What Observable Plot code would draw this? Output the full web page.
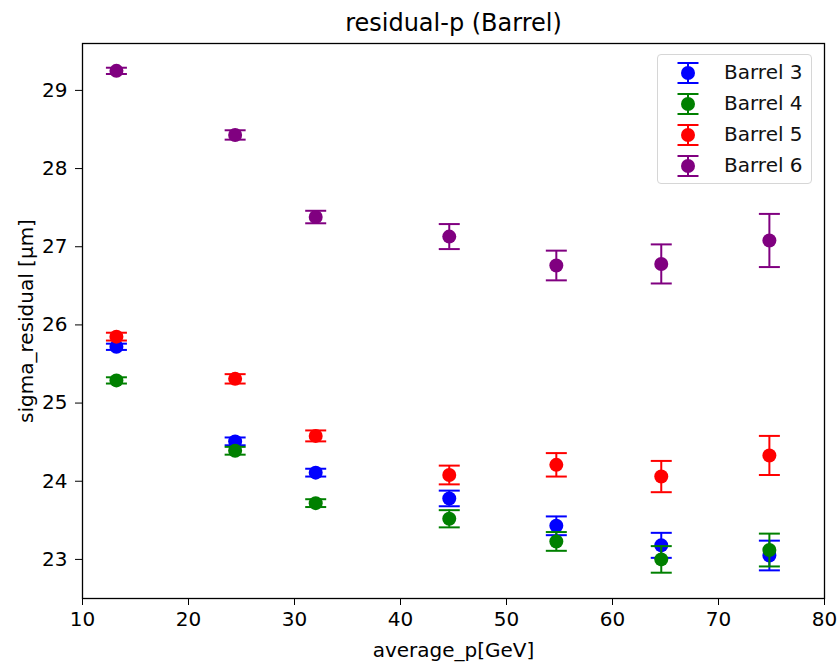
<!DOCTYPE html>
<html><head><meta charset="utf-8">
<script src="https://cdn.jsdelivr.net/npm/d3@7"></script>
<script src="https://cdn.jsdelivr.net/npm/@observablehq/plot@0.6"></script>
<style>
body{margin:0;background:#fff;font-family:"DejaVu Sans",sans-serif}
#wrap{position:relative;width:839px;height:664px}
#legend{position:absolute;left:657px;top:54px;width:155px;height:130px;border:1px solid #d6d6d6;border-radius:4px;background:rgba(255,255,255,0.8);box-sizing:border-box}
</style></head><body><div id="wrap"><div id="legend"></div></div>
<script>
const avgP = [13.2, 24.4, 32.0, 44.6, 54.7, 64.6, 74.8];
const seriesNames = ["Barrel 3", "Barrel 4", "Barrel 5", "Barrel 6"];
const seriesColors = ["blue", "green", "red", "purple"];
const barrel3 = [25.72, 24.51, 24.11, 23.78, 23.43, 23.18, 23.05];
const err3    = [0.04, 0.05, 0.05, 0.10, 0.12, 0.16, 0.19];
const barrel4 = [25.29, 24.39, 23.72, 23.52, 23.23, 23.00, 23.12];
const err4    = [0.04, 0.05, 0.05, 0.11, 0.12, 0.17, 0.21];
const barrel5 = [25.85, 25.31, 24.58, 24.08, 24.21, 24.06, 24.33];
const err5    = [0.05, 0.06, 0.07, 0.12, 0.15, 0.20, 0.25];
const barrel6 = [29.25, 28.43, 27.38, 27.13, 26.76, 26.78, 27.08];
const err6    = [0.04, 0.06, 0.08, 0.16, 0.19, 0.25, 0.34];
const xTicks = [10, 20, 30, 40, 50, 60, 70, 80];
const yTicks = [23, 24, 25, 26, 27, 28, 29];
const titleText = "residual-p (Barrel)";
const xLabel = "average_p[GeV]";
const yLabel = "sigma_residual [µm]";

const values = [barrel3, barrel4, barrel5, barrel6];
const errors = [err3, err4, err5, err6];
const rows = [];
values.forEach((v, s) => v.forEach((y, i) => rows.push({series: seriesNames[s], x: avgP[i], y, err: errors[s][i]})));

const cap = {draw(ctx) { ctx.moveTo(-10.5, 0); ctx.lineTo(10.5, 0); }};

const marks = [];
seriesNames.forEach(name => {
  const d = rows.filter(r => r.series === name);
  marks.push(
    Plot.ruleX(d, {x: "x", y1: r => r.y - r.err, y2: r => r.y + r.err, stroke: "series", strokeWidth: 2}),
    Plot.dot(d, {x: "x", y: r => r.y + r.err, symbol: cap, stroke: "series", fill: "none", strokeWidth: 2}),
    Plot.dot(d, {x: "x", y: r => r.y - r.err, symbol: cap, stroke: "series", fill: "none", strokeWidth: 2}),
    Plot.dot(d, {x: "x", y: "y", r: 7, fill: "series", stroke: "none"})
  );
});

const chart = Plot.plot({
  width: 839, height: 664,
  marginLeft: 82, marginRight: 15, marginTop: 43, marginBottom: 66,
  style: {fontFamily: "DejaVu Sans", fontSize: "20px", background: "#fff", color: "#000"},
  x: {domain: [10, 80]},
  y: {domain: [22.5, 29.6]},
  color: {domain: seriesNames, range: seriesColors},
  marks: [
    ...marks,
    Plot.frame({stroke: "black", strokeWidth: 1.3}),
    Plot.axisX({ticks: xTicks, tickSize: 7, tickPadding: 6, fontSize: 20, label: xLabel, labelAnchor: "center", labelArrow: "none", labelOffset: 58}),
    Plot.axisY({ticks: yTicks, tickSize: 7, tickPadding: 8, fontSize: 20, label: yLabel, labelAnchor: "center", labelArrow: "none", labelOffset: 64}),
    Plot.text([titleText], {frameAnchor: "top", text: d => d, dy: -30, fontSize: 24})
  ]
});
document.getElementById("wrap").prepend(chart);

// legend
const leg = d3.select("#legend");
seriesNames.forEach((name, i) => {
  const row = leg.append("div").style("position", "absolute").style("left", "0px").style("top", (2 + i * 31) + "px").style("height", "31px").style("width", "150px");
  const svg = row.append("svg").attr("width", 60).attr("height", 31).style("position", "absolute").style("left", "0").style("top", "0");
  const cx = 30, cy = 16;
  svg.append("line").attr("x1", cx).attr("x2", cx).attr("y1", cy - 10).attr("y2", cy + 10).attr("stroke", seriesColors[i]).attr("stroke-width", 2);
  svg.append("line").attr("x1", cx - 10.5).attr("x2", cx + 10.5).attr("y1", cy - 10).attr("y2", cy - 10).attr("stroke", seriesColors[i]).attr("stroke-width", 2);
  svg.append("line").attr("x1", cx - 10.5).attr("x2", cx + 10.5).attr("y1", cy + 10).attr("y2", cy + 10).attr("stroke", seriesColors[i]).attr("stroke-width", 2);
  svg.append("circle").attr("cx", cx).attr("cy", cy).attr("r", 7).attr("fill", seriesColors[i]);
  row.append("div").text(name).style("position", "absolute").style("left", "66px").style("top", "3px").style("font-size", "20px").style("color", "#111").style("white-space", "nowrap");
});
</script>
</body></html>
